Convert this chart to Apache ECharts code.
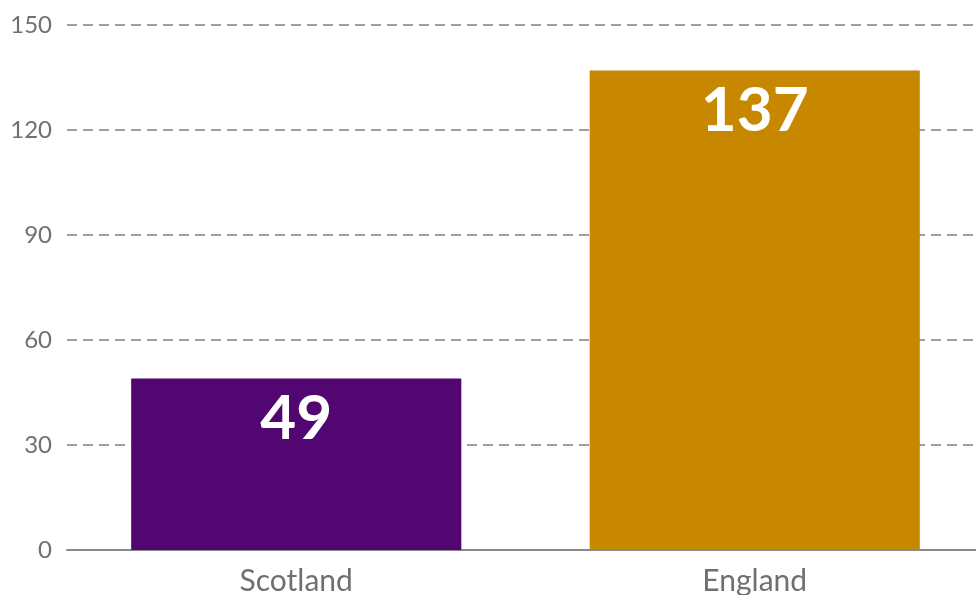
<!DOCTYPE html>
<html>
<head>
<meta charset="utf-8">
<script src="https://cdn.jsdelivr.net/npm/echarts@6/dist/echarts.min.js"></script>
<style>
html, body { margin: 0; padding: 0; background: #fff; }
#chart { width: 976px; height: 595px; }
</style>
</head>
<body>
<div id="chart"></div>
<script>
var categories = ['Scotland', 'England'];
var values = [49, 137];
var barColors = ['#510672', '#c78800'];
var yTicks = { min: 0, max: 150, interval: 30 };

var chart = echarts.init(document.getElementById('chart'));
var option = {
	animation: false,
	grid: { left: 67, right: -8, top: 25, bottom: 45, outerBoundsMode: 'none' },
	xAxis: {
		type: 'category',
		data: categories,
		axisTick: { show: false },
		axisLine: { lineStyle: { color: '#8a8a8a', width: 2 } },
		axisLabel: { color: '#707070', fontSize: 30, fontFamily: 'Lato', margin: 16 }
	},
	yAxis: {
		type: 'value',
		min: yTicks.min,
		max: yTicks.max,
		interval: yTicks.interval,
		axisLine: { show: false },
		axisTick: { show: false },
		axisLabel: { color: '#707070', fontSize: 24, fontFamily: 'Lato', margin: 15 },
		splitLine: { lineStyle: { color: '#808080', width: 1.5, type: [10, 6] } }
	},
	series: [{
		type: 'bar',
		barWidth: '72%',
		data: values.map(function(v, i) {
			return { value: v, itemStyle: { color: barColors[i] } };
		}),
		label: {
			show: true,
			position: 'insideTop',
			distance: 9,
			color: '#fff',
			fontSize: 62,
			fontWeight: 'bold',
			fontFamily: 'Lato'
		}
	}]
};
chart.setOption(option);
</script>
</body>
</html>
